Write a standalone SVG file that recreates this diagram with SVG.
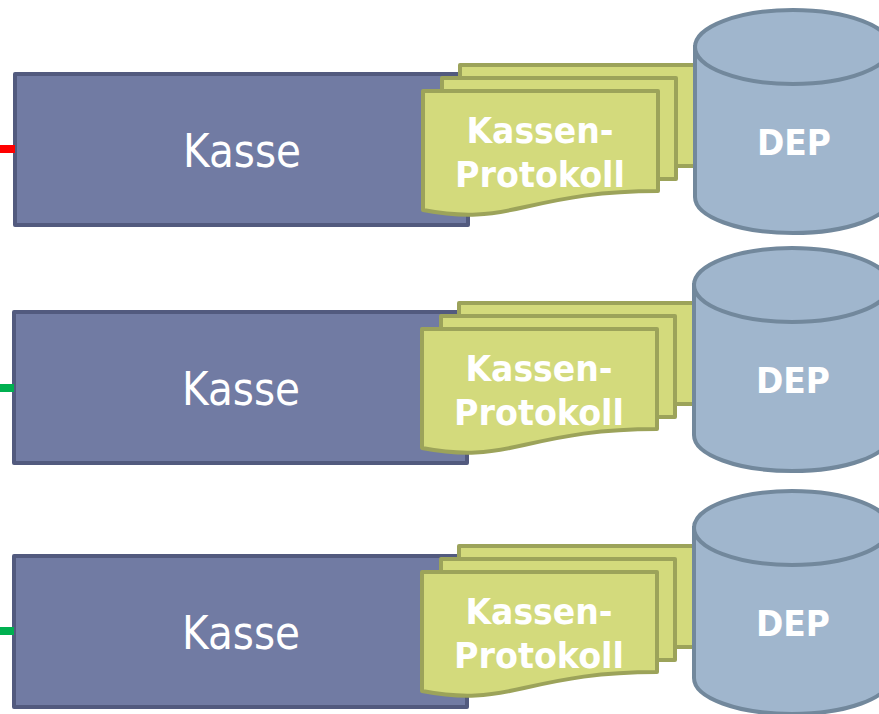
<svg xmlns="http://www.w3.org/2000/svg" width="879" height="714" viewBox="0 0 879 714">
<style>
.k{fill:#717BA3;stroke:#525A7E;stroke-width:4;stroke-linejoin:round}
.d{fill:#D3DA7C;stroke:#9CA35A;stroke-width:4;stroke-linejoin:round}
.c{fill:#A0B6CD;stroke:#72889C;stroke-width:4}
.t1{font-family:"DejaVu Sans",sans-serif;font-size:46px;fill:#fff;text-anchor:middle}
.t2{font-family:"DejaVu Sans",sans-serif;font-size:36px;font-weight:700;fill:#fff;text-anchor:middle}
</style>
<defs>
<g id="kasse"><rect class="k" x="15" y="74" width="453" height="151"/><text class="t1" x="242" y="167" textLength="118" lengthAdjust="spacingAndGlyphs">Kasse</text></g>
<g id="proto">
<rect class="d" x="460" y="65" width="240" height="101"/>
<rect class="d" x="442" y="78" width="234" height="101"/>
<path class="d" d="M423 91H658V191C600 191 565 198 525 207C490 215 465 218 423 210Z"/>
<text class="t2" x="540" y="143" textLength="147" lengthAdjust="spacingAndGlyphs">Kassen-</text>
<text class="t2" x="540" y="187" textLength="170" lengthAdjust="spacingAndGlyphs">Protokoll</text>
</g>
<g id="dep">
<path class="c" d="M695 47V197C695 217 739 233 793 233S891 217 891 197V47Z"/>
<ellipse class="c" cx="793" cy="47" rx="98" ry="37"/>
<text class="t2" x="794" y="155" textLength="74" lengthAdjust="spacingAndGlyphs">DEP</text>
</g>
</defs>
<g id="kasse1"><use href="#kasse"/></g>
<g id="proto1"><use href="#proto"/></g>
<g id="dep1"><use href="#dep"/></g>
<g id="kasse2"><use href="#kasse" x="-1" y="238"/></g>
<g id="proto2"><use href="#proto" x="-1" y="238"/></g>
<g id="dep2"><use href="#dep" x="-1" y="238"/></g>
<g id="kasse3"><use href="#kasse" x="-1" y="482"/></g>
<g id="proto3"><use href="#proto" x="-1" y="481"/></g>
<g id="dep3"><use href="#dep" x="-1" y="481"/></g>
<g id="connectors">
<rect x="0" y="145" width="15" height="8" fill="#FF0000"/>
<rect x="0" y="384" width="14" height="8" fill="#00B050"/>
<rect x="0" y="627" width="14" height="8" fill="#00B050"/>
</g>
</svg>
